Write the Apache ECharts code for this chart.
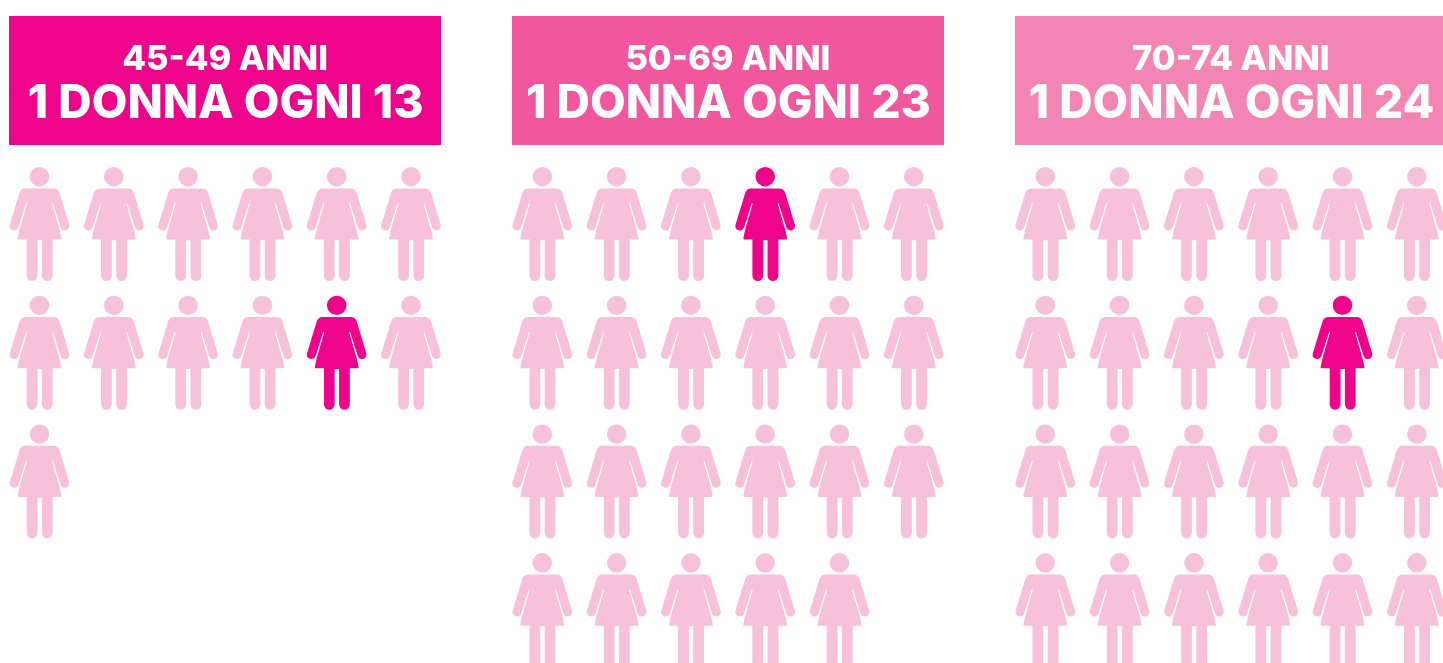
<!DOCTYPE html>
<html><head><meta charset="utf-8">
<style>html,body{margin:0;padding:0;background:#fff;overflow:hidden}#c{width:1443px;height:663px}</style>
<script src="https://cdn.jsdelivr.net/npm/echarts@6/dist/echarts.min.js"></script>
</head><body><div id="c"></div>
<script>
const ageLabels = ['45-49 ANNI', '50-69 ANNI', '70-74 ANNI'];
const ratioLabels = ['1 DONNA OGNI 13', '1 DONNA OGNI 23', '1 DONNA OGNI 24'];
const womenCounts = [13, 23, 24];
const highlightedWoman = [10, 3, 10];
const headerColors = ['#EE048B', '#F1569E', '#F385B4'];
const womanColor = '#F7C1DA';
const highlightColor = '#EE048B';
const perRow = 6;

const panelCenter = [39.5, 542.3, 1045.3];
const headerRects = [[9, 432], [512, 432], [1015, 428]];
const pitchX = 74.3, firstY = 224, pitchY = 128.7;

const woman = 'path://M89 80A29 29 0 1 1 147 80A29 29 0 1 1 89 80Z' +
  'M76 115L160 115Q172 115 177 127L206 223A13.5 13.5 0 0 1 181 233L158 160L155 160L178 240L183 264Q184 268 180 268L157 268L157 376A16 16 0 0 1 125 376L125 270L112 270L112 376A16 16 0 0 1 80 376L80 268L56 268Q52 268 53 264L58 240L81 160L78 160L55 233A13.5 13.5 0 0 1 30 223L59 127Q64 115 76 115Z';

const grids = [], xAxes = [], yAxes = [], series = [], graphics = [];
womenCounts.forEach((count, p) => {
  grids.push({left: panelCenter[p], top: firstY, width: pitchX * (perRow - 1), height: pitchY * 3});
  xAxes.push({type: 'value', gridIndex: p, min: 0, max: perRow - 1, show: false});
  yAxes.push({type: 'value', gridIndex: p, min: 0, max: 3, inverse: true, show: false});
  const data = [];
  for (let i = 0; i < count; i++) {
    data.push({
      value: [i % perRow, Math.floor(i / perRow)],
      itemStyle: {opacity: 1, color: i === highlightedWoman[p] ? highlightColor : womanColor}
    });
  }
  series.push({
    type: 'scatter', xAxisIndex: p, yAxisIndex: p, clip: false, silent: true,
    symbol: woman, symbolSize: [59.7, 114], data
  });
  const [x, w] = headerRects[p];
  const cx = panelCenter[p] + 186.2;
  graphics.push({type: 'rect', shape: {x, y: 16, width: w, height: 129}, style: {fill: headerColors[p]}, silent: true});
  graphics.push({type: 'text', x: cx - 0.6, y: 60, silent: true, style: {text: ageLabels[p], fill: '#fff', align: 'center', verticalAlign: 'middle', font: '800 34.5px Inter'}});
  graphics.push({type: 'text', x: cx, y: 104, silent: true, style: {text: ratioLabels[p], fill: '#fff', align: 'center', verticalAlign: 'middle', font: '800 46.2px Inter'}});
});

echarts.init(document.getElementById('c'), null, {renderer: 'canvas'}).setOption({
  animation: false, backgroundColor: '#fff',
  grid: grids, xAxis: xAxes, yAxis: yAxes, series, graphic: graphics
});
</script></body></html>
